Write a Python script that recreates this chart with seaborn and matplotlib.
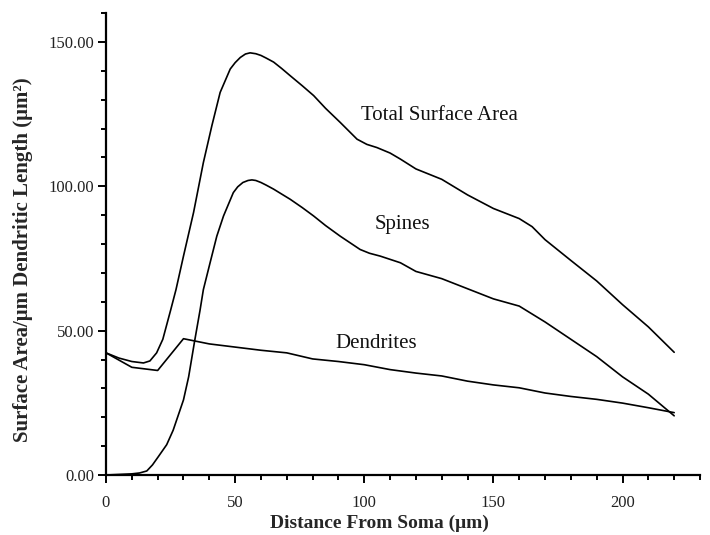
import numpy as np
import pandas as pd
import matplotlib
matplotlib.use("Agg")
import matplotlib.pyplot as plt
import seaborn as sns

# ---- data ----
total_x = [0, 5, 10, 14.5, 17, 19.6, 22, 25, 27.1, 30, 33.9, 37.7, 41, 44.2, 48.1, 50, 52, 54,
           55.8, 58, 60, 62, 64.9, 68, 71.3, 76, 80.4, 85, 90.7, 97.2, 101, 104.9, 110, 114,
           120, 130, 140, 150, 160, 165, 170, 180, 190, 200, 210, 220]
total_y = [42.3, 40.5, 39.3, 38.8, 39.5, 42.3, 47, 57, 64.2, 75.8, 90.9, 108.2, 121, 132.5,
           140.6, 142.8, 144.6, 145.8, 146.2, 145.9, 145.3, 144.4, 143, 140.8, 138.3, 134.8,
           131.4, 127, 122.1, 116.3, 114.5, 113.4, 111.5, 109.4, 106, 102.4, 97, 92.3, 88.8,
           86, 81.5, 74.3, 67.2, 59, 51.3, 42.5]

spines_x = [0, 10, 13, 15.8, 18, 20.3, 23.5, 26, 30, 32, 34.3, 36.4, 37.7, 40.3, 42.9, 45.5,
            49.3, 51, 53, 55, 56.5, 58, 60, 62, 64.9, 68, 71.3, 76, 80.4, 85, 90.7, 98.4, 102,
            106.2, 114, 120, 130, 140, 150, 160, 170, 180, 190, 200, 210, 220]
spines_y = [0, 0.4, 0.7, 1.4, 3.5, 6.4, 10.5, 15.5, 26, 34, 46.3, 57, 64.2, 73.5, 82.7, 89.7,
            97.8, 99.8, 101.3, 102.0, 102.2, 102.0, 101.3, 100.4, 99, 97.3, 95.5, 92.6, 89.7,
            86.4, 82.7, 78.1, 76.8, 75.8, 73.5, 70.5, 68, 64.5, 61, 58.5, 53, 47, 41, 34, 28,
            20.5]

dend_x = [0, 10, 20, 30, 40, 50, 60, 70, 80, 90, 100, 110, 120, 130, 140, 150, 160, 170,
          180, 190, 200, 210, 220]
dend_y = [42.3, 37.3, 36.2, 47.2, 45.4, 44.3, 43.2, 42.3, 40.2, 39.3, 38.2, 36.5, 35.3, 34.3,
          32.5, 31.2, 30.2, 28.4, 27.2, 26.2, 24.9, 23.3, 21.6]

series_names = ["Total Surface Area", "Spines", "Dendrites"]
x_ticks = [0, 50, 100, 150, 200]
y_ticks = [0, 50, 100, 150]

df = pd.concat([
    pd.DataFrame({"x": total_x, "y": total_y, "s": series_names[0]}),
    pd.DataFrame({"x": spines_x, "y": spines_y, "s": series_names[1]}),
    pd.DataFrame({"x": dend_x, "y": dend_y, "s": series_names[2]}),
], ignore_index=True)

sns.set_theme(style="ticks")
plt.rcParams["font.family"] = ["Liberation Serif", "DejaVu Serif"]

fig = plt.figure(figsize=(7.1, 5.35), dpi=100)
ax = fig.add_axes([106 / 710, 60 / 535, 594 / 710, 462 / 535])

sns.lineplot(data=df, x="x", y="y", hue="s", palette=["black"] * 3, estimator=None,
             sort=False, legend=False, linewidth=1.2, ax=ax)

ax.set_xlim(0, 230)
ax.set_ylim(0, 160)
ax.set_xticks(x_ticks)
ax.set_yticks(y_ticks)
ax.set_xticks(np.arange(0, 231, 10), minor=True)
ax.set_yticks(np.arange(0, 161, 10), minor=True)
ax.set_yticklabels([f"{v:.2f}" for v in y_ticks])
ax.set_xticklabels([str(v) for v in x_ticks])

for side in ["top", "right"]:
    ax.spines[side].set_visible(False)
for side in ["left", "bottom"]:
    ax.spines[side].set_linewidth(1.6)
    ax.spines[side].set_color("black")

ax.tick_params(axis="both", which="major", direction="out", length=5.5, width=1.4,
               color="black", labelsize=12, labelcolor="#222222")
ax.tick_params(axis="both", which="minor", direction="out", length=3.5, width=1.4,
               color="black")
ax.tick_params(axis="x", which="major", pad=9)
ax.tick_params(axis="y", which="major", pad=3)

ax.set_xlabel("Distance From Soma (μm)", fontsize=14, fontweight="bold")
ax.set_ylabel("Surface Area/μm Dendritic Length (μm²)", fontsize=15, fontweight="bold")
ax.xaxis.set_label_coords(0.461, -0.085)
ax.yaxis.set_label_coords(-0.123, 0.465)

ax.text(98.7, 124.4, "Total Surface Area", fontsize=15, ha="left", va="center", color="#111111")
ax.text(104, 86.8, "Spines", fontsize=15, ha="left", va="center", color="#111111")
ax.text(88.8, 45.7, "Dendrites", fontsize=15, ha="left", va="center", color="#111111")

fig.savefig("out.png", dpi=100)
